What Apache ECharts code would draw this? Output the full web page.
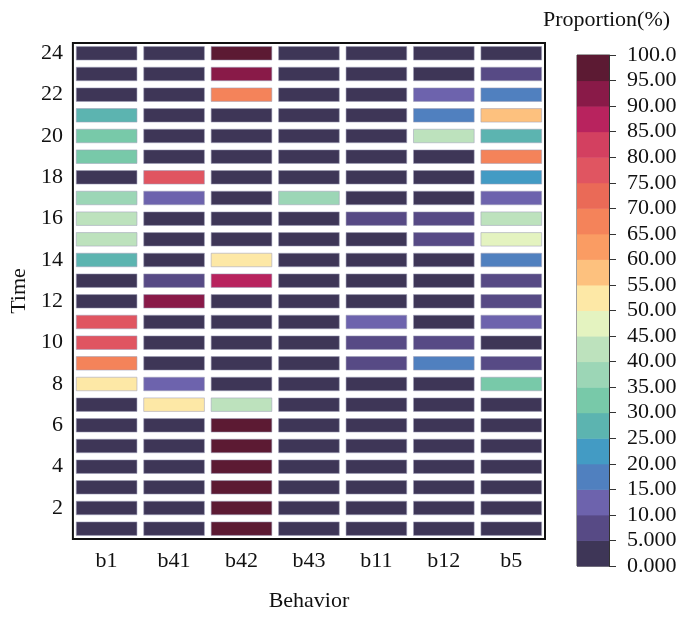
<!DOCTYPE html>
<html><head><meta charset="utf-8">
<script src="https://cdn.jsdelivr.net/npm/echarts@6/dist/echarts.min.js"></script>
<style>html,body{margin:0;padding:0;background:#fff}#c{width:681px;height:617px}</style>
</head><body><div id="c"></div>
<script>
const behaviors = ['b1','b41','b42','b43','b11','b12','b5'];
const times = ['1','2','3','4','5','6','7','8','9','10','11','12','13','14','15','16','17','18','19','20','21','22','23','24'];
// proportion (%) per behavior, indexed by time 1..24
const b1  = [2,2,2,2,2,2,2,52,67,77,77,2,2,27,42,42,37,2,32,32,27,2,2,2];
const b41 = [2,2,2,2,2,2,52,12,2,2,2,92,7,2,2,2,12,77,2,2,2,2,2,2];
const b42 = [97,97,97,97,97,97,42,2,2,2,2,2,87,52,2,2,2,2,2,2,2,67,92,97];
const b43 = [2,2,2,2,2,2,2,2,2,2,2,2,2,2,2,2,37,2,2,2,2,2,2,2];
const b11 = [2,2,2,2,2,2,2,2,7,7,12,2,2,2,2,7,2,2,2,2,2,2,2,2];
const b12 = [2,2,2,2,2,2,2,2,17,7,2,2,2,2,7,7,2,2,2,42,17,12,2,2];
const b5  = [2,2,2,2,2,2,2,32,7,2,12,7,7,17,47,42,12,22,67,27,57,17,7,2];
const binColors = ['#3e3657','#574a85','#6d63ad','#5080bf','#439bc4','#5cb4b0','#78c9a9','#9cd6b6','#bde2bd','#e4f3c0',
  '#fde8a6','#fdc17e','#fa9c63','#f4835a','#ea6a57','#e05561','#d34060','#b8235e','#891a48','#5c1a33'];
const binEdges = [0,5,10,15,20,25,30,35,40,45,50,55,60,65,70,75,80,85,90,95,100];

const cols = [b1,b41,b42,b43,b11,b12,b5];
const data = [];
cols.forEach((arr, xi) => arr.forEach((v, yi) => data.push([xi, yi, v])));
const pieces = binColors.map((c, i) => ({gte: binEdges[i], lt: binEdges[i+1] + (i === 19 ? 0.001 : 0), color: c}));
const cbData = binColors.map((c, i) => [0, binEdges[i], binEdges[i+1], i]);

const font = 'Liberation Serif';
const fs = 22;
const chart = echarts.init(document.getElementById('c'));
chart.setOption({
  animation: false,
  textStyle: {fontFamily: font},
  title: {text: 'Proportion(%)', left: 538, top: 4, textStyle: {fontFamily: font, fontSize: fs, fontWeight: 'normal', color: '#111'}},
  grid: [
    {left: 72, top: 43, width: 473, height: 513, show: true, borderColor: '#111', borderWidth: 2, backgroundColor: 'transparent'},
    {left: 577, top: 55, width: 32, height: 511, show: true, borderColor: '#444', borderWidth: 1, backgroundColor: 'transparent'}
  ],
  xAxis: [
    {type: 'category', gridIndex: 0, data: behaviors, name: 'Behavior', nameLocation: 'middle', nameGap: 51,
     nameTextStyle: {fontFamily: font, fontSize: fs, color: '#111'},
     axisLine: {show: false}, axisTick: {show: false}, splitLine: {show: false},
     axisLabel: {fontFamily: font, fontSize: fs, color: '#111', margin: 11}},
    {type: 'category', gridIndex: 1, data: ['c'], show: false}
  ],
  yAxis: [
    {type: 'category', gridIndex: 0, data: times, name: 'Time', nameLocation: 'middle', nameGap: 39,
     nameTextStyle: {fontFamily: font, fontSize: fs, color: '#111'},
     axisLine: {show: false}, axisTick: {show: false}, splitLine: {show: false},
     axisLabel: {fontFamily: font, fontSize: fs, color: '#111', margin: 10, interval: (i) => (i + 1) % 2 === 0}},
    {type: 'value', gridIndex: 1, min: 0, max: 100, interval: 5, position: 'right',
     axisLine: {show: true, lineStyle: {color: '#333', width: 1}},
     axisTick: {show: true, length: 7, lineStyle: {color: '#333'}},
     splitLine: {show: false},
     axisLabel: {fontFamily: font, fontSize: fs, color: '#111', margin: 18,
       formatter: (v) => v >= 100 ? v.toFixed(1) : (v < 10 ? v.toFixed(3) : v.toFixed(2))}}
  ],
  visualMap: {type: 'piecewise', show: false, dimension: 2, seriesIndex: 0, pieces: pieces},
  series: [
    {type: 'custom', xAxisIndex: 0, yAxisIndex: 0, data: data,
     renderItem: (params, api) => {
       const c = api.coord([api.value(0), api.value(1)]);
       const s = api.size([1, 1]);
       const w = s[0] * 0.9, h = s[1] * 0.655;
       return {type: 'rect', shape: {x: c[0] - w / 2, y: c[1] - h / 2, width: w, height: h},
         style: {fill: api.visual('color'), stroke: 'rgba(160,160,185,0.55)', lineWidth: 1}};
     }},
    {type: 'custom', xAxisIndex: 1, yAxisIndex: 1, data: cbData,
     renderItem: (params, api) => {
       const p0 = api.coord([0, api.value(1)]);
       const p1 = api.coord([0, api.value(2)]);
       const s = api.size([1, 0]);
       return {type: 'rect', shape: {x: p0[0] - s[0] / 2, y: p1[1], width: s[0], height: p0[1] - p1[1] + 0.5},
         style: {fill: binColors[api.value(3)]}};
     }}
  ]
});
</script></body></html>
